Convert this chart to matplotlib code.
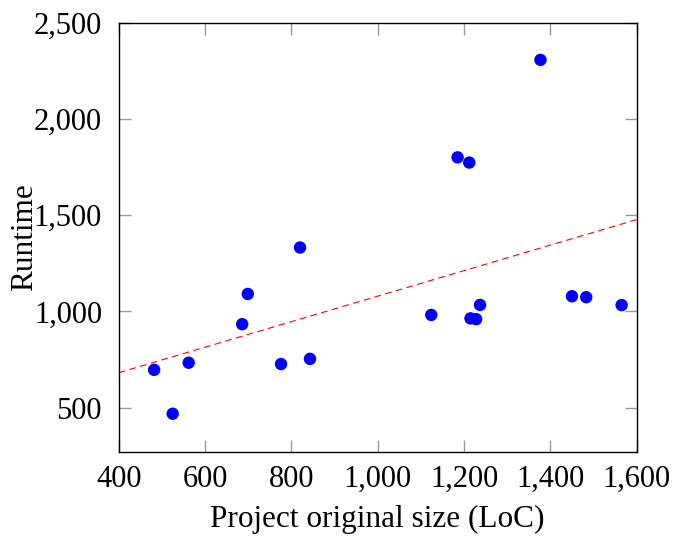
import matplotlib
matplotlib.use("Agg")
import matplotlib.pyplot as plt
from matplotlib.ticker import FuncFormatter

plt.rcParams['font.family'] = ['Liberation Serif', 'DejaVu Serif']

# 数据
loc = [482, 525, 562, 686, 699, 776, 820, 843, 1124, 1185, 1212, 1215,
       1228, 1237, 1377, 1450, 1483, 1565]
runtime = [697, 469, 734, 934, 1091, 727, 1332, 754, 982, 1800, 1773, 964,
           960, 1034, 2306, 1079, 1074, 1033]

# 趋势线端点
trend_x = [400, 1600]
trend_y = [682, 1477]

fig = plt.figure(figsize=(6.75, 5.36), dpi=100)
ax = fig.add_axes([0.1759, 0.1562, 0.9433 - 0.1759, 0.958 - 0.1562])

ax.plot(trend_x, trend_y, color='red', linestyle=(0, (6, 4)), linewidth=0.8, zorder=2)
ax.scatter(loc, runtime, s=80, color='#0000ff', edgecolors='none', zorder=3)

ax.set_xlim(400, 1600)
ax.set_ylim(269, 2500)
ax.set_xticks(range(400, 1601, 200))
ax.set_yticks(range(500, 2501, 500))

fmt = FuncFormatter(lambda v, p: f"{int(v):,}")
ax.xaxis.set_major_formatter(fmt)
ax.yaxis.set_major_formatter(fmt)

ax.tick_params(direction='in', length=8.4, width=1, color='#999999',
               top=True, right=True, labelsize=22)
ax.tick_params(axis='x', pad=9)
ax.tick_params(axis='y', pad=12)
for s in ax.spines.values():
    s.set_linewidth(1)
    s.set_color('black')

ax.set_xlabel('Project original size (LoC)', fontsize=22.5, labelpad=8)
ax.set_ylabel('Runtime', fontsize=22.5, labelpad=-3.5)

fig.savefig('out.png', dpi=100)
